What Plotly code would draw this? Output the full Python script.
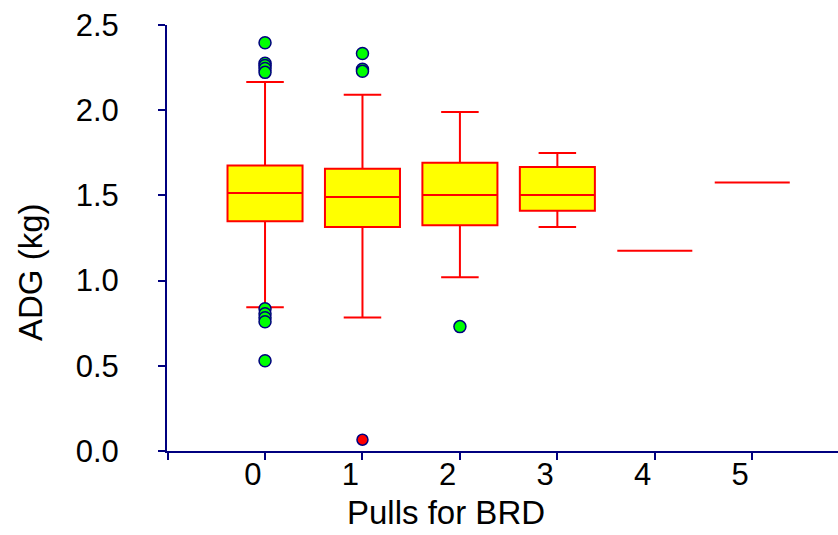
import plotly.graph_objects as go

# Data
pulls = [0, 1, 2, 3, 4, 5]
q1 = [1.349, 1.314, 1.325, 1.41, 1.175, 1.575]
median = [1.514, 1.49, 1.502, 1.503, 1.175, 1.575]
q3 = [1.676, 1.657, 1.692, 1.667, 1.175, 1.575]
lower_whisker = [0.843, 0.784, 1.02, 1.314, 1.175, 1.575]
upper_whisker = [2.165, 2.09, 1.99, 1.749, 1.175, 1.575]

outlier_x = [0, 0, 0, 0, 0, 0, 0, 0, 0, 0, 1, 1, 1, 2]
outlier_y = [2.396, 2.276, 2.262, 2.245, 2.222, 0.835, 0.806, 0.782, 0.759, 0.53,
             2.333, 2.24, 2.228, 0.73]
extreme_x = [1]
extreme_y = [0.066]

tick_vals = [-1, 0, 1, 2, 3, 4, 5]
label_vals = [0, 1, 2, 3, 4, 5]
label_text = ["0", "1", "2", "3", "4", "5"]
y_ticks = [0.0, 0.5, 1.0, 1.5, 2.0, 2.5]

NAVY = "#00007f"
FONT = "Liberation Sans, Arial, sans-serif"

L, R, T, B = 167, 0, 25, 84
W, H = 838 - L - R, 535 - T - B
XR = [-1.006, 5.88]
LABEL_SHIFT = 0.125  # labels sit slightly left of their ticks in the reference

fig = go.Figure()
fig.add_trace(go.Box(
    x=pulls, q1=q1, median=median, q3=q3,
    lowerfence=lower_whisker, upperfence=upper_whisker,
    fillcolor="#ffff00", line=dict(color="#ff0000", width=2),
    width=0.77, whiskerwidth=0.5, boxpoints=False, showlegend=False,
    hoverinfo="skip",
))
fig.add_trace(go.Scatter(
    x=outlier_x, y=outlier_y, mode="markers", showlegend=False,
    marker=dict(color="#00ff00", size=12, line=dict(color=NAVY, width=1.5)),
))
fig.add_trace(go.Scatter(
    x=extreme_x, y=extreme_y, mode="markers", showlegend=False,
    marker=dict(color="#ff0000", size=11, line=dict(color=NAVY, width=1.5)),
))
# invisible trace to carry the tick-label axis
fig.add_trace(go.Scatter(
    x=label_vals, y=[None] * len(label_vals), xaxis="x2", mode="markers",
    showlegend=False, hoverinfo="skip",
))


def px_x(p):
    return (p - L) / W


def px_y(p):
    return (535 - B - p) / H


fig.update_layout(
    width=838, height=535,
    margin=dict(l=L, r=R, t=T, b=B),
    paper_bgcolor="white", plot_bgcolor="white",
    font=dict(family=FONT, size=31, color="black"),
    annotations=[
        dict(text="ADG (kg)", x=px_x(30), y=px_y(272), xref="paper", yref="paper",
             xanchor="center", yanchor="middle",
             showarrow=False, textangle=-90, font=dict(size=33)),
        dict(text="Pulls for BRD", x=px_x(446), y=px_y(512), xref="paper", yref="paper",
             xanchor="center", yanchor="middle",
             showarrow=False, font=dict(size=33)),
    ],
    xaxis=dict(
        range=XR, tickvals=tick_vals, showticklabels=False,
        showline=True, linecolor=NAVY, linewidth=2, ticks="outside",
        tickcolor=NAVY, ticklen=7, tickwidth=2, showgrid=False, zeroline=False,
    ),
    xaxis2=dict(
        range=[XR[0] + LABEL_SHIFT, XR[1] + LABEL_SHIFT], overlaying="x",
        anchor="y", side="bottom", tickvals=label_vals, ticktext=label_text,
        showline=False, ticks="", showgrid=False, zeroline=False,
        ticklabelstandoff=2,
    ),
    yaxis=dict(
        range=[0, 2.5], tickvals=y_ticks, tickformat=".1f",
        showline=True, linecolor=NAVY, linewidth=2, ticks="outside",
        tickcolor=NAVY, ticklen=7, tickwidth=2, showgrid=False, zeroline=False,
        ticklabelstandoff=33,
    ),
)

fig.write_html("out.html", config={"displayModeBar": False},
               post_script="document.body.style.margin='0';")
